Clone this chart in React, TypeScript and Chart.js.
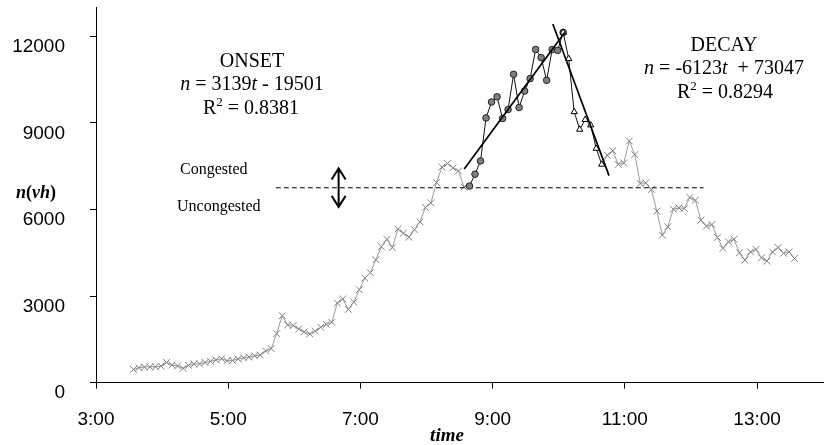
import React, { useEffect, useRef } from "react";
import { Chart, registerables } from "chart.js";

Chart.register(...registerables);

// ---- sampling grid (5-minute counts, first sample at 3:34) ----
const START_HOUR = 3 + 34 / 60;
const STEP_HOUR = 5 / 60;

// ---- axis ticks ----
const X_TICKS = [3, 5, 7, 9, 11, 13];
const Y_TICKS = [0, 3000, 6000, 9000, 12000];

// ---- uncongested counts, 3:34 .. 8:34 ----
const uncongestedBefore = [
  460, 520, 540, 550, 550, 575, 700, 615, 580, 495,
  600, 650, 650, 700, 740, 790, 830, 760, 770, 820,
  860, 890, 930, 960, 1100, 1180, 1700, 2320, 2000, 1980,
  1860, 1760, 1690, 1790, 1920, 2020, 2090, 2760, 2900, 2540,
  2790, 3220, 3620, 3810, 4260, 4710, 4965, 4680, 5320, 5180,
  5040, 5300, 5570, 6070, 6230, 6930, 7470, 7590, 7440, 7330,
  6780,
];

// ---- onset (congested, rising) counts, 8:39 .. 10:04 ----
const onsetCounts = [
  6810, 7220, 7680, 9170, 9720, 9900, 9150, 9460, 10680, 9530,
  10100, 10530, 11540, 11260, 10470, 11540, 11510, 12130,
];

// ---- decay (congested, falling) counts, 10:04 .. 10:39 ----
const decayCounts = [12130, 11220, 9380, 8770, 9110, 8920, 8110, 7560];

// ---- uncongested counts, 10:44 .. 13:34 ----
const uncongestedAfter = [
  7880, 8030, 7560, 7610, 8370, 7900, 6900, 6920, 6690, 5940,
  5110, 5400, 6010, 6055, 6035, 6415, 6320, 5630, 5420, 5480,
  5030, 4650, 4880, 4970, 4500, 4245, 4530, 4615, 4325, 4210,
  4530, 4685, 4480, 4530, 4300,
];

const ONSET_START_INDEX = 61;
const DECAY_START_INDEX = 78;
const AFTER_START_INDEX = 86;

// ---- regression lines (end points) ----
const onsetFitT = [8.57, 10.09];
const onsetFitN = [7400, 12130];
const decayFitT = [9.91, 10.76];
const decayFitN = [12420, 7170];

// ---- congestion threshold (dashed) and double arrow ----
const thresholdT = [5.72, 12.19];
const thresholdN = 6750;
const arrowT = 6.67;
const arrowN = [7420, 6090];

// ---- texts ----
const ONSET_TITLE = "ONSET";
const ONSET_SLOPE = " = 3139";
const ONSET_INTERCEPT = " - 19501";
const ONSET_R2 = " = 0.8381";
const DECAY_TITLE = "DECAY";
const DECAY_SLOPE = " = -6123";
const DECAY_INTERCEPT = "  + 73047";
const DECAY_R2 = " = 0.8294";
const LABEL_CONGESTED = "Congested";
const LABEL_UNCONGESTED = "Uncongested";
const X_TITLE = "time";

const SANS = 'Arial, "Liberation Sans", sans-serif';
const SERIF = '"Times New Roman", "Liberation Serif", serif';

const tAt = (i: number) => START_HOUR + i * STEP_HOUR;

type Seg = [string, string, number?];

function drawRich(ctx: CanvasRenderingContext2D, segs: Seg[], x: number, baseline: number, align: "center" | "left") {
  let total = 0;
  const widths: number[] = [];
  for (const s of segs) {
    ctx.font = s[1];
    const w = ctx.measureText(s[0]).width;
    widths.push(w);
    total += w;
  }
  let cx = align === "center" ? x - total / 2 : x;
  segs.forEach((s, i) => {
    ctx.font = s[1];
    ctx.fillText(s[0], cx, baseline + (s[2] || 0));
    cx += widths[i];
  });
}

const annotationPlugin = {
  id: "annotations",
  afterDraw(chart: any) {
    const ctx: CanvasRenderingContext2D = chart.ctx;
    const xs = chart.scales.x;
    const ys = chart.scales.y;
    ctx.save();
    ctx.fillStyle = "#000";
    ctx.strokeStyle = "#000";
    ctx.textAlign = "left";
    ctx.textBaseline = "alphabetic";

    const F = `20px ${SERIF}`;
    const FI = `italic 20px ${SERIF}`;
    const FS = `13px ${SERIF}`;

    // ONSET block
    drawRich(ctx, [[ONSET_TITLE, F]], 252, 67, "center");
    drawRich(ctx, [["n", FI], [ONSET_SLOPE, F], ["t", FI], [ONSET_INTERCEPT, F]], 252, 90, "center");
    drawRich(ctx, [["R", F], ["2", FS, -8], [ONSET_R2, F]], 251, 114, "center");

    // DECAY block
    drawRich(ctx, [[DECAY_TITLE, F]], 724, 51, "center");
    drawRich(ctx, [["n", FI], [DECAY_SLOPE, F], ["t", FI], [DECAY_INTERCEPT, F]], 724, 74, "center");
    drawRich(ctx, [["R", F], ["2", FS, -8], [DECAY_R2, F]], 725, 98, "center");

    // congested / uncongested
    drawRich(ctx, [[LABEL_CONGESTED, `16px ${SERIF}`]], 180, 174, "left");
    drawRich(ctx, [[LABEL_UNCONGESTED, `16px ${SERIF}`]], 177, 210.5, "left");

    // axis titles
    const B = `bold 18px ${SERIF}`;
    const BI = `italic bold 18px ${SERIF}`;
    drawRich(ctx, [["n", BI], ["(", B], ["vh", BI], [")", B]], 16, 198, "left");
    drawRich(ctx, [[X_TITLE, `italic bold 19px ${SERIF}`]], 447, 441, "center");

    // double arrow
    const ax = xs.getPixelForValue(arrowT);
    const y1 = ys.getPixelForValue(arrowN[0]);
    const y2 = ys.getPixelForValue(arrowN[1]);
    ctx.lineWidth = 2;
    ctx.lineJoin = "miter";
    ctx.beginPath();
    ctx.moveTo(ax, y1);
    ctx.lineTo(ax, y2);
    ctx.moveTo(ax - 7, y1 + 11);
    ctx.lineTo(ax, y1);
    ctx.lineTo(ax + 7, y1 + 11);
    ctx.moveTo(ax - 7, y2 - 11);
    ctx.lineTo(ax, y2);
    ctx.lineTo(ax + 7, y2 - 11);
    ctx.stroke();
    ctx.restore();
  },
};

export default function App() {
  const canvasRef = useRef<HTMLCanvasElement | null>(null);

  useEffect(() => {
    const canvas = canvasRef.current;
    if (!canvas) return;

    const grayData: any[] = [];
    uncongestedBefore.forEach((v, i) => grayData.push({ x: tAt(i), y: v }));
    grayData.push({ x: tAt(ONSET_START_INDEX), y: onsetCounts[0], hide: true });
    grayData.push({ x: tAt(ONSET_START_INDEX + 1), y: null });
    grayData.push({ x: tAt(AFTER_START_INDEX - 1), y: decayCounts[decayCounts.length - 1], hide: true });
    uncongestedAfter.forEach((v, i) => grayData.push({ x: tAt(AFTER_START_INDEX + i), y: v }));

    const onsetData = onsetCounts.map((v, i) => ({ x: tAt(ONSET_START_INDEX + i), y: v }));
    const decayData = decayCounts.map((v, i) => ({ x: tAt(DECAY_START_INDEX + i), y: v }));
    const onsetFit = onsetFitT.map((t, i) => ({ x: t, y: onsetFitN[i] }));
    const decayFit = decayFitT.map((t, i) => ({ x: t, y: decayFitN[i] }));
    const threshold = thresholdT.map((t) => ({ x: t, y: thresholdN }));

    const axisCommon = {
      grid: { display: true, drawOnChartArea: false, drawTicks: true, tickLength: 6, color: "#000", lineWidth: 1 },
      border: { display: true, color: "#000", width: 1 },
    };

    const chart = new Chart(canvas, {
      type: "line",
      data: {
        datasets: [
          {
            label: "onset fit",
            data: onsetFit,
            borderColor: "#000",
            borderWidth: 1.7,
            pointRadius: 0,
            order: 0,
          },
          {
            label: "decay fit",
            data: decayFit,
            borderColor: "#000",
            borderWidth: 1.7,
            pointRadius: 0,
            order: 0,
          },
          {
            label: "decay",
            data: decayData,
            borderColor: "#111",
            borderWidth: 1,
            pointStyle: "triangle",
            pointRadius: 3.6,
            pointBackgroundColor: "#fff",
            pointBorderColor: "#000",
            pointBorderWidth: 1,
            order: 1,
          },
          {
            label: "onset",
            data: onsetData,
            borderColor: "#111",
            borderWidth: 1,
            pointStyle: "circle",
            pointRadius: 3.3,
            pointBackgroundColor: "#7f7f7f",
            pointBorderColor: "#222",
            pointBorderWidth: 1,
            order: 2,
          },
          {
            label: "threshold",
            data: threshold,
            borderColor: "#000",
            borderWidth: 1,
            borderDash: [5, 3],
            pointRadius: 0,
            order: 3,
          },
          {
            label: "uncongested",
            data: grayData,
            borderColor: "#9a9a9a",
            borderWidth: 1,
            spanGaps: false,
            pointStyle: "crossRot",
            pointRadius: (c: any) => (c.raw && c.raw.hide ? 0 : 4.8),
            pointBorderColor: "#808080",
            pointBackgroundColor: "rgba(0,0,0,0)",
            pointBorderWidth: 1,
            order: 4,
          },
        ],
      },
      options: {
        responsive: false,
        animation: false,
        devicePixelRatio: 1,
        events: [],
        layout: { padding: { top: 7.3, right: 0, bottom: 0, left: 0 } },
        plugins: { legend: { display: false }, tooltip: { enabled: false } },
        elements: { line: { tension: 0 } },
        scales: {
          x: {
            type: "linear",
            min: 3,
            max: 14,
            ...axisCommon,
            afterBuildTicks: (s: any) => {
              s.ticks = X_TICKS.map((v) => ({ value: v }));
            },
            afterFit: (s: any) => {
              s.height = 62.3;
              s.paddingLeft = 0;
              s.paddingRight = 0;
            },
            ticks: {
              autoSkip: false,
              maxRotation: 0,
              color: "#000",
              padding: 20,
              font: { family: SANS, size: 19 },
              callback: (v: any) => `${v}:00`,
            },
          },
          y: {
            type: "linear",
            min: 0,
            max: 13000,
            ...axisCommon,
            afterBuildTicks: (s: any) => {
              s.ticks = Y_TICKS.map((v) => ({ value: v }));
            },
            afterFit: (s: any) => {
              s.width = 96;
              s.paddingTop = 0;
              s.paddingBottom = 0;
            },
            ticks: {
              color: "#000",
              padding: 25,
              labelOffset: 10.5,
              font: { family: SANS, size: 19 },
              callback: (v: any) => String(v),
            },
          },
        },
      },
      plugins: [annotationPlugin],
    } as any);

    return () => chart.destroy();
  }, []);

  return (
    <div style={{ position: "fixed", left: 0, top: 0, width: 829, height: 445, background: "#fff" }}>
      <canvas ref={canvasRef} width={829} height={445} style={{ display: "block" }} />
    </div>
  );
}
